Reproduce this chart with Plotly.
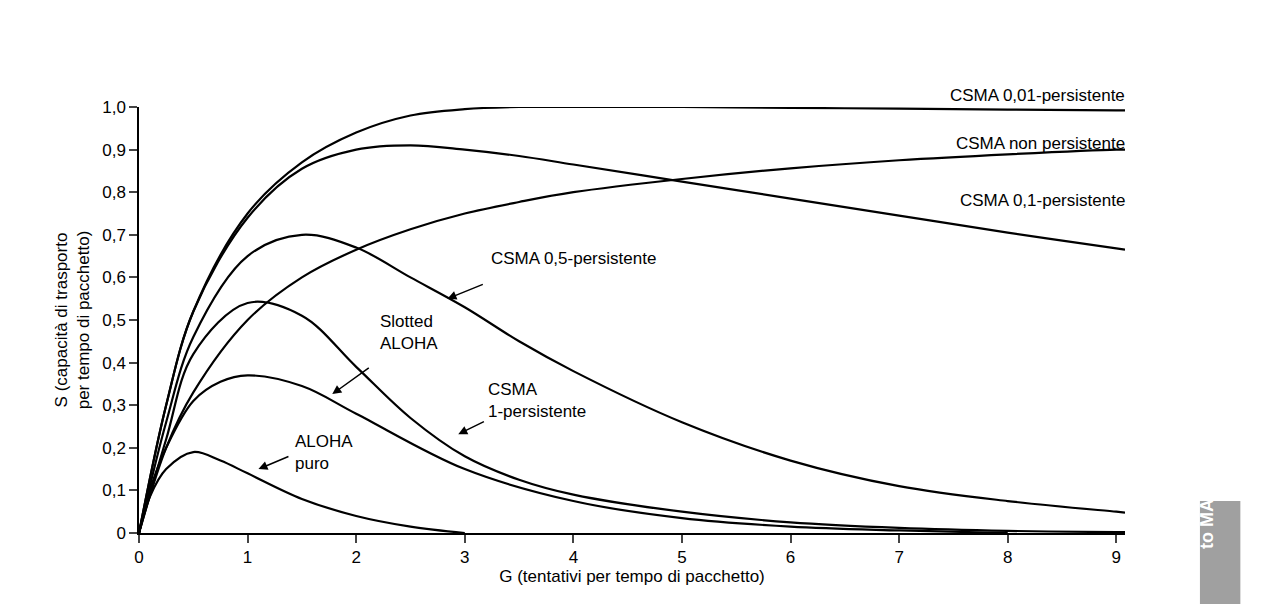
import plotly.graph_objects as go

g = [0, 0.25, 0.5, 1, 1.5, 2, 2.5, 3, 3.5, 4, 5, 6, 7, 8, 9, 9.08]

aloha_g = [0, 0.1, 0.25, 0.5, 0.75, 1, 1.5, 2, 2.5, 3]
aloha_s = [0, 0.085, 0.15, 0.19, 0.17, 0.14, 0.08, 0.04, 0.015, 0]

slotted_g = [0, 0.1, 0.25, 0.5, 0.75, 1, 1.5, 2, 3, 4, 5, 6, 7, 8]
slotted_s = [0, 0.1, 0.2, 0.31, 0.355, 0.37, 0.345, 0.28, 0.15, 0.075, 0.035, 0.015, 0.006, 0]

csma1_s = [0, 0.22, 0.42, 0.54, 0.51, 0.39, 0.27, 0.18, 0.125, 0.09, 0.05, 0.025, 0.012, 0.005, 0.002, 0.002]
csma05_s = [0, 0.26, 0.46, 0.65, 0.70, 0.67, 0.6, 0.53, 0.45, 0.38, 0.26, 0.17, 0.11, 0.075, 0.05, 0.048]
nonpers_s = [0, 0.2, 0.33, 0.5, 0.6, 0.665, 0.713, 0.75, 0.777, 0.8, 0.831, 0.856, 0.875, 0.889, 0.9, 0.9]
csma01_s = [0, 0.3, 0.52, 0.74, 0.855, 0.9, 0.91, 0.9, 0.885, 0.865, 0.825, 0.785, 0.745, 0.705, 0.668, 0.665]
csma001_s = [0, 0.3, 0.52, 0.75, 0.87, 0.94, 0.98, 0.995, 1.0, 1.0, 1.0, 0.998, 0.996, 0.994, 0.992, 0.992]

x_ticks = list(range(10))
y_ticks = [i / 10 for i in range(11)]
y_labels = ["0"] + ["0,%d" % i for i in range(1, 10)] + ["1,0"]

fig = go.Figure()
line = dict(color="black", width=2.2, shape="spline", smoothing=1.0)
for xs, ys in [(aloha_g, aloha_s), (slotted_g, slotted_s), (g, csma1_s), (g, csma05_s),
               (g, nonpers_s), (g, csma01_s), (g, csma001_s)]:
    fig.add_trace(go.Scatter(x=xs, y=ys, mode="lines", line=line, cliponaxis=False, showlegend=False))

font = dict(family="Liberation Sans, Arial", size=17, color="black")
ann = []
# right-side labels (paper coords)
for txt, yv in [("CSMA 0,01-persistente", 1.054), ("CSMA non persistente", 0.941),
                ("CSMA 0,1-persistente", 0.808)]:
    ann.append(dict(x=1.002, y=yv, xref="paper", yref="paper", text=txt, showarrow=False,
                    xanchor="right", font=font))
# inner labels
for txt, xv, yv in [("CSMA 0,5-persistente", 3.22, 0.645), ("Slotted<br>ALOHA", 2.2, 0.47),
                    ("CSMA<br>1-persistente", 3.2, 0.31), ("ALOHA<br>puro", 1.42, 0.19)]:
    ann.append(dict(x=xv, y=yv, text=txt, showarrow=False, xanchor="left", align="left", font=font))
# arrows: (tail x, tail y, head x, head y)
for tx, ty, hx, hy in [(3.18, 0.585, 2.84, 0.55), (2.13, 0.39, 1.78, 0.326),
                       (3.19, 0.263, 2.94, 0.232), (1.39, 0.181, 1.10, 0.150)]:
    ann.append(dict(x=hx, y=hy, ax=tx, ay=ty, axref="x", ayref="y", text="", showarrow=True,
                    arrowhead=2, arrowsize=1.2, arrowwidth=1.5, arrowcolor="black"))
# side tab
ann.append(dict(x=1.096, y=-0.042, xref="paper", yref="paper", text="<b>to MAC</b>", textangle=-90,
                showarrow=False, font=dict(family="Liberation Sans", size=18, color="white")))

fig.update_layout(
    width=1280, height=604, plot_bgcolor="white", paper_bgcolor="white",
    margin=dict(l=131, r=163, t=99, b=79),
    font=font, annotations=ann,
    xaxis=dict(range=[0, 9.08], tickvals=x_ticks, ticks="outside", ticklen=8, tickwidth=1.5,
               showline=True, linecolor="black", linewidth=1.5, showgrid=False, zeroline=False,
               title=dict(text="G (tentativi per tempo di pacchetto)", standoff=4, font=font)),
    yaxis=dict(range=[0, 1.0], tickvals=y_ticks, ticktext=y_labels, ticks="outside", ticklen=8,
               tickwidth=1.5, showline=True, linecolor="black", linewidth=1.5, showgrid=False,
               zeroline=False,
               title=dict(text="S (capacità di trasporto<br>per tempo di pacchetto)", standoff=8, font=font)),
)
fig.add_shape(type="rect", xref="paper", yref="paper", x0=1.076, x1=1.117, y0=-0.2, y1=0.075,
              fillcolor="#a0a0a0", line=dict(width=0), layer="below")
fig.write_html("out.html")
